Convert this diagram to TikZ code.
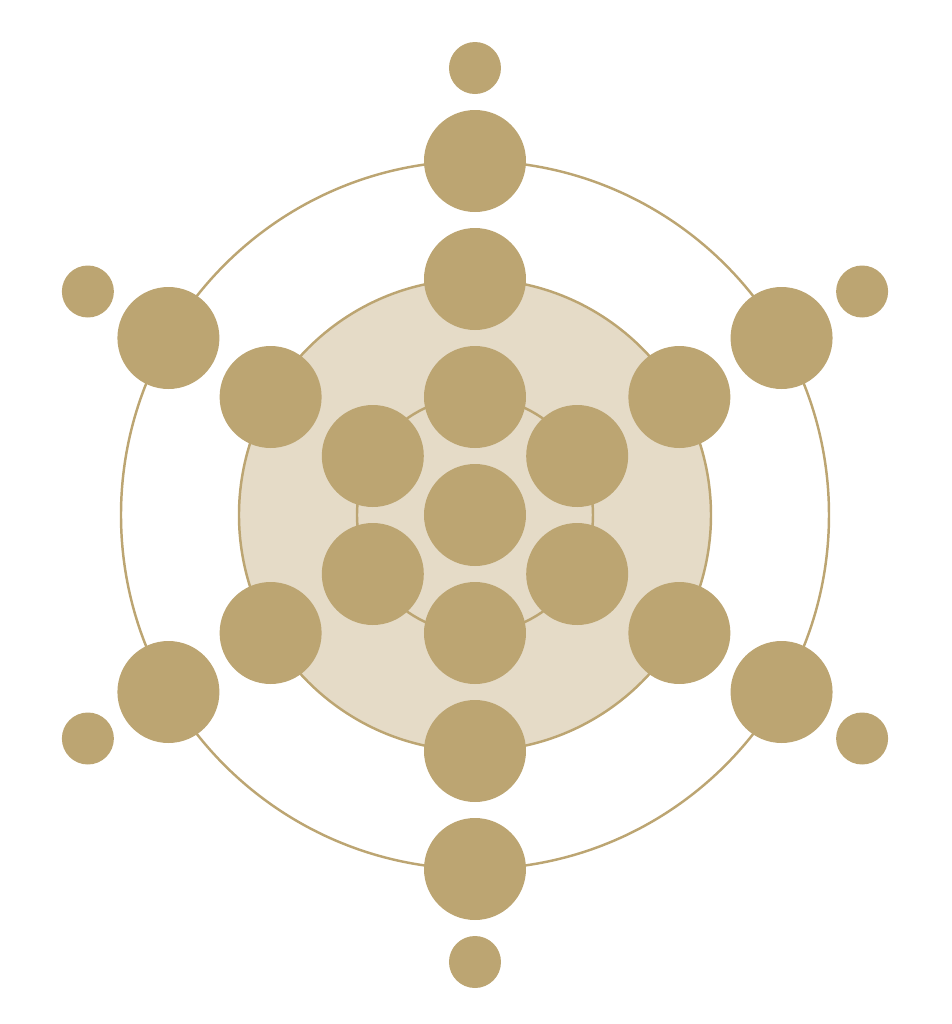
\documentclass[tikz,border=0pt]{standalone}
\definecolor{gold}{HTML}{BCA572}
\definecolor{sand}{HTML}{E5DBC7}
\begin{document}
\begin{tikzpicture}
\useasboundingbox (-4.75,-5.09) rectangle (4.77,5.15);
\draw[gold, line width=0.7pt] (0,0) circle (3.54);
\draw[gold, line width=0.7pt, fill=sand] (0,0) circle (2.36);
\draw[gold, line width=0.7pt] (0,0) circle (1.18);
% center and inner ring
\node[circle, inner sep=0, minimum size=1.02cm, fill=gold] (tid0) at (0,0){};
\node[circle, inner sep=0, minimum size=1.02cm, fill=gold] (tid1) at (90:1.18){};
\node[circle, inner sep=0, minimum size=1.02cm, fill=gold] (tid2) at (30:1.18){};
\node[circle, inner sep=0, minimum size=1.02cm, fill=gold] (tid3) at (-30:1.18){};
\node[circle, inner sep=0, minimum size=1.02cm, fill=gold] (tid4) at (-90:1.18){};
\node[circle, inner sep=0, minimum size=1.02cm, fill=gold] (tid5) at (-150:1.18){};
\node[circle, inner sep=0, minimum size=1.02cm, fill=gold] (tid6) at (150:1.18){};
% middle ring
\node[circle, inner sep=0, minimum size=1.02cm, fill=gold] (tid7) at (90:2.36){};
\node[circle, inner sep=0, minimum size=1.02cm, fill=gold] (tid8) at (30:2.36){};
\node[circle, inner sep=0, minimum size=1.02cm, fill=gold] (tid9) at (-30:2.36){};
\node[circle, inner sep=0, minimum size=1.02cm, fill=gold] (tid10) at (-90:2.36){};
\node[circle, inner sep=0, minimum size=1.02cm, fill=gold] (tid11) at (-150:2.36){};
\node[circle, inner sep=0, minimum size=1.02cm, fill=gold] (tid12) at (150:2.36){};
% outer ring
\node[circle, inner sep=0, minimum size=1.02cm, fill=gold] (tid13) at (90:3.54){};
\node[circle, inner sep=0, minimum size=1.02cm, fill=gold] (tid14) at (30:3.54){};
\node[circle, inner sep=0, minimum size=1.02cm, fill=gold] (tid15) at (-30:3.54){};
\node[circle, inner sep=0, minimum size=1.02cm, fill=gold] (tid16) at (-90:3.54){};
\node[circle, inner sep=0, minimum size=1.02cm, fill=gold] (tid17) at (-150:3.54){};
\node[circle, inner sep=0, minimum size=1.02cm, fill=gold] (tid18) at (150:3.54){};
% small dots
\node[circle, inner sep=0, minimum size=0.52cm, fill=gold] (tid19) at (90:4.47){};
\node[circle, inner sep=0, minimum size=0.52cm, fill=gold] (tid20) at (30:4.47){};
\node[circle, inner sep=0, minimum size=0.52cm, fill=gold] (tid21) at (-30:4.47){};
\node[circle, inner sep=0, minimum size=0.52cm, fill=gold] (tid22) at (-90:4.47){};
\node[circle, inner sep=0, minimum size=0.52cm, fill=gold] (tid23) at (-150:4.47){};
\node[circle, inner sep=0, minimum size=0.52cm, fill=gold] (tid24) at (150:4.47){};

\end{tikzpicture}
\end{document}
